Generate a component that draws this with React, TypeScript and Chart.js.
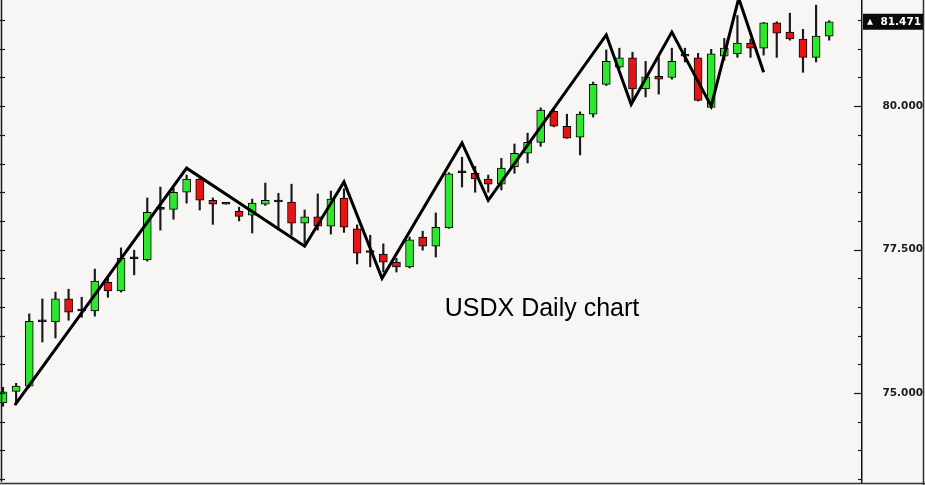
import React, { useEffect, useRef } from 'react';
import { Chart, registerables } from 'chart.js';

Chart.register(...registerables);

// Daily candles (USDX)
const opens = [
  74.83, 75.03, 75.12, 76.24, 76.24, 76.64, 76.43, 76.43, 76.93, 76.78,
  77.34, 77.32, 78.2, 78.2, 78.5, 78.73, 78.36, 78.29, 78.17, 78.1,
  78.29, 78.33, 78.33, 77.96, 78.07, 77.91, 78.4, 77.86, 77.45, 77.42,
  77.28, 77.2, 77.72, 77.56, 77.88, 78.84, 78.83, 78.73, 78.64, 78.94,
  79.18, 79.37, 79.91, 79.65, 79.46, 79.86, 80.38, 80.68, 80.84, 80.3,
  80.52, 80.5, 80.87, 80.84, 79.98, 80.87, 80.91, 81.1, 81.01, 81.45,
  81.29, 81.17, 80.85, 81.22,
];
const highs = [
  75.1, 75.17, 76.38, 76.64, 76.76, 76.81, 76.67, 77.16, 77.0, 77.53,
  77.49, 78.4, 78.59, 78.57, 78.8, 78.75, 78.4, 78.29, 78.24, 78.38,
  78.66, 78.48, 78.64, 78.19, 78.47, 78.52, 78.56, 77.93, 77.75, 77.6,
  77.35, 77.72, 77.82, 78.14, 78.84, 79.11, 78.95, 78.8, 79.09, 79.34,
  79.53, 79.97, 79.96, 79.86, 79.9, 80.42, 80.98, 81.01, 80.94, 80.78,
  80.85, 81.01, 81.01, 80.92, 80.99, 81.18, 81.58, 81.17, 81.46, 81.47,
  81.62, 81.34, 81.76, 81.49,
];
const lows = [
  74.77, 74.83, 75.1, 75.89, 75.96, 76.27, 76.32, 76.34, 76.67, 76.76,
  77.06, 77.3, 77.84, 78.03, 78.31, 78.19, 77.94, 78.29, 78.0, 77.79,
  78.27, 77.84, 77.75, 77.61, 77.84, 77.77, 77.8, 77.25, 77.2, 77.11,
  77.11, 77.18, 77.49, 77.37, 77.87, 78.59, 78.5, 78.5, 78.54, 78.83,
  79.01, 79.3, 79.64, 79.44, 79.15, 79.81, 80.36, 80.66, 80.1, 80.16,
  80.21, 80.47, 80.77, 80.09, 79.97, 80.8, 80.85, 80.85, 80.89, 80.85,
  81.15, 80.59, 80.77, 81.15,
];
const closes = [
  75.02, 75.12, 76.25, 76.24, 76.64, 76.41, 76.43, 76.95, 76.78, 77.35,
  77.34, 78.15, 78.2, 78.5, 78.73, 78.36, 78.29, 78.29, 78.08, 78.31,
  78.36, 78.33, 77.96, 78.07, 77.91, 78.38, 77.89, 77.44, 77.45, 77.28,
  77.2, 77.67, 77.56, 77.89, 78.82, 78.84, 78.73, 78.64, 78.92, 79.18,
  79.37, 79.93, 79.65, 79.44, 79.86, 80.38, 80.78, 80.84, 80.3, 80.51,
  80.47, 80.78, 80.87, 80.1, 80.91, 81.01, 81.1, 81.01, 81.45, 81.27,
  81.17, 80.85, 81.22, 81.471,
];

// Hand-drawn zigzag (candle position, price)
const zigzagX = [1.9, 15, 24, 27, 29.9, 36, 38, 47, 48.9, 52, 55, 57.1, 59];
const zigzagY = [74.79, 78.92, 77.56, 78.68, 77.0, 79.36, 78.36, 81.24, 80.03, 81.29, 80.0, 81.88, 80.59];

// Axis
const yTickValues = [73.5, 74, 74.5, 75, 75.5, 76, 76.5, 77, 77.5, 78, 78.5, 79, 79.5, 80, 80.5, 81, 81.5];
const yLabelValues = [75, 77.5, 80];
const lastPrice = 81.471;
const caption = 'USDX Daily chart';

const GREEN = '#2ee62e';
const RED = '#e81414';

export default function App() {
  const ref = useRef<HTMLCanvasElement>(null);

  useEffect(() => {
    const xs = opens.map((_, i) => i + 1);
    const bodyColors = opens.map((o, i) => (closes[i] > o ? GREEN : closes[i] < o ? RED : '#111'));

    const decor = {
      id: 'decor',
      afterDraw(chart: any) {
        const { ctx, chartArea } = chart;
        const y = chart.scales.y;
        ctx.save();
        ctx.strokeStyle = '#1a1a1a';
        ctx.lineWidth = 1.5;
        // left axis line
        ctx.beginPath();
        ctx.moveTo(1.5, 0);
        ctx.lineTo(1.5, chartArea.bottom);
        ctx.stroke();
        ctx.lineWidth = 1.2;
        yTickValues.forEach((v) => {
          const py = Math.round(y.getPixelForValue(v)) + 0.5;
          const major = yLabelValues.includes(v);
          ctx.beginPath();
          ctx.moveTo(0, py);
          ctx.lineTo(5, py);
          ctx.stroke();
          ctx.beginPath();
          ctx.moveTo(chartArea.right - (major ? 8 : 4), py);
          ctx.lineTo(chartArea.right, py);
          ctx.stroke();
        });
        // frame: bottom and right
        ctx.strokeStyle = '#333';
        ctx.lineWidth = 1.5;
        ctx.beginPath();
        ctx.moveTo(0, 483.5);
        ctx.lineTo(925, 483.5);
        ctx.moveTo(923.5, 0);
        ctx.lineTo(923.5, 485);
        ctx.stroke();
        // last price box
        const ly = y.getPixelForValue(lastPrice);
        const bx = chartArea.right + 1;
        ctx.fillStyle = '#0a0a0a';
        ctx.fillRect(bx, ly - 8, 923 - bx, 16);
        ctx.fillStyle = '#ffffff';
        ctx.beginPath();
        ctx.moveTo(bx + 4, ly + 3);
        ctx.lineTo(bx + 10, ly + 3);
        ctx.lineTo(bx + 7, ly - 3);
        ctx.closePath();
        ctx.fill();
        ctx.font = 'bold 10.5px "DejaVu Sans"';
        ctx.textAlign = 'right';
        ctx.textBaseline = 'middle';
        ctx.fillText(lastPrice.toFixed(3), 921, ly + 0.5);
        // caption
        ctx.fillStyle = '#000';
        ctx.font = '25px "Liberation Sans"';
        ctx.textAlign = 'center';
        ctx.textBaseline = 'middle';
        ctx.fillText(caption, 542, 309);
        ctx.restore();
      },
    };

    const chart = new Chart(ref.current!, {
      type: 'bar',
      data: {
        datasets: [
          {
            type: 'line',
            data: zigzagX.map((x, i) => ({ x, y: zigzagY[i] })),
            borderColor: '#000',
            borderWidth: 3,
            pointRadius: 0,
            tension: 0,
            borderJoinStyle: 'miter',
            order: 0,
          } as any,
          {
            type: 'bar',
            data: xs.map((x, i) => ({ x, y: [opens[i], closes[i]] })),
            backgroundColor: bodyColors,
            borderColor: '#000',
            borderWidth: 1,
            borderSkipped: false,
            barThickness: 8,
            minBarLength: 2,
            grouped: false,
            order: 1,
          } as any,
          {
            type: 'bar',
            data: xs.map((x, i) => ({ x, y: [lows[i], highs[i]] })),
            backgroundColor: '#1a1a1a',
            borderWidth: 0,
            barThickness: 1.5,
            grouped: false,
            order: 2,
          } as any,
        ],
      },
      options: {
        animation: false,
        responsive: false,
        devicePixelRatio: 1,
        layout: { padding: { left: 0, right: 2, top: 0, bottom: 3 } },
        plugins: {
          legend: { display: false },
          tooltip: { enabled: false },
        },
        scales: {
          x: { type: 'linear', min: 0.77, max: 66.5, display: false, offset: false },
          y: {
            position: 'right',
            min: 73.45,
            max: 81.85,
            afterBuildTicks: (s: any) => {
              s.ticks = yTickValues.map((v) => ({ value: v }));
            },
            afterFit: (s: any) => {
              s.width = 61;
              s.paddingTop = 0;
              s.paddingBottom = 0;
            },
            grid: { display: true, drawOnChartArea: false, drawTicks: false },
            border: { display: true, color: '#111', width: 1.5 },
            ticks: {
              autoSkip: false,
              padding: 19,
              crossAlign: 'far',
              color: '#1a1a1a',
              font: { family: 'DejaVu Sans', size: 10.5, weight: 'bold' },
              callback: (v: any) => (yLabelValues.includes(Number(v)) ? Number(v).toFixed(3) : ''),
            },
          },
        },
      } as any,
      plugins: [decor],
    });
    return () => chart.destroy();
  }, []);

  return (
    <div style={{ position: 'absolute', left: 0, top: 0, width: 925, height: 485, background: '#f7f6f4' }}>
      <canvas ref={ref} width={925} height={485} style={{ display: 'block' }} />
    </div>
  );
}
